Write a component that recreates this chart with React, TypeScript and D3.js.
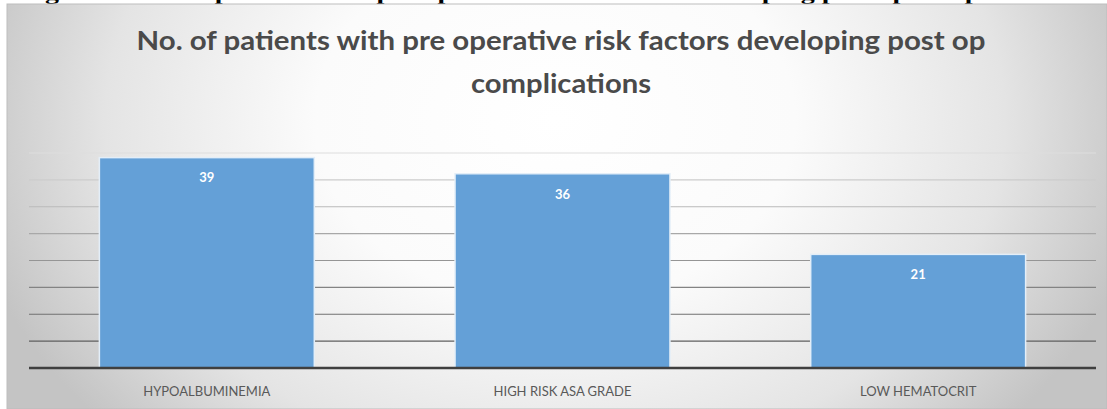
import * as d3 from "d3";
import React from "react";

const categories = ["HYPOALBUMINEMIA", "HIGH RISK ASA GRADE", "LOW HEMATOCRIT"];
const patients = [39, 36, 21];
const yDomain = [0, 40];
const titleLines = [
  "No. of patients with pre operative risk factors developing post op",
  "complications",
];
const titleWidths = [849, 180];
const caption =
  "Figure 3: No. of patients with pre operative risk factors developing post op complications";

const W = 1107;
const H = 409;

const App: React.FC = () => {
  const left = 29,
    right = 1096,
    bottom = 368,
    top = 153;

  const x = d3
    .scaleBand<string>()
    .domain(categories)
    .range([left, right])
    .paddingInner(0.4)
    .paddingOuter(0.2);

  const y = d3.scaleLinear().domain(yDomain).range([bottom, top]);

  // gridlines fade from light at the top to dark near the axis
  const gridColor = d3
    .scaleLinear<string>()
    .domain([yDomain[1], 5])
    .range(["#dedede", "#5f5f5f"])
    .interpolate(d3.interpolateRgb);

  const ticks = y.ticks(8).filter((t) => t > 0);

  return (
    <svg
      width={W}
      height={H}
      style={{ position: "fixed", left: 0, top: 0, display: "block", background: "#fff" }}
    >
      <defs>
        <radialGradient
          id="bg"
          gradientUnits="userSpaceOnUse"
          cx={0}
          cy={0}
          r={1}
          gradientTransform="translate(555,120) scale(600,460)"
        >
          <stop offset="0%" stopColor="#ffffff" />
          <stop offset="40%" stopColor="#fbfbfb" />
          <stop offset="75%" stopColor="#e4e4e4" />
          <stop offset="100%" stopColor="#c4c4c4" />
        </radialGradient>
      </defs>

      {/* cut-off caption of the document above the chart */}
      <text
        x={20}
        y={-0.5}
        textLength={1060}
        lengthAdjust="spacingAndGlyphs"
        style={{ font: "bold 18px 'Liberation Serif', serif" }}
        fill="#000"
      >
        {caption}
      </text>

      <rect x={7} y={4} width={W - 7} height={H - 4} fill="url(#bg)" stroke="#bdbdbd" />

      {titleLines.map((line, i) => (
        <text
          key={i}
          x={561}
          y={50 + i * 43}
          textAnchor="middle"
          textLength={titleWidths[i]}
          lengthAdjust="spacingAndGlyphs"
          style={{ font: "bold 27px Lato, 'Open Sans', sans-serif" }}
          fill="#4a4a4a"
        >
          {line}
        </text>
      ))}

      {ticks.map((t) => (
        <line
          key={t}
          x1={left}
          x2={right}
          y1={y(t)}
          y2={y(t)}
          stroke={gridColor(t)}
          strokeWidth={1.2}
        />
      ))}

      {categories.map((c, i) => (
        <g key={c}>
          <rect
            x={x(c)! - 1.5}
            y={y(patients[i]) - 1.5}
            width={x.bandwidth() + 3}
            height={bottom - y(patients[i]) + 1.5}
            fill="#e3eef8"
          />
          <rect
            x={x(c)}
            y={y(patients[i])}
            width={x.bandwidth()}
            height={bottom - y(patients[i])}
            fill="#64a0d7"
          />
          <text
            x={x(c)! + x.bandwidth() / 2}
            y={y(patients[i]) + 24}
            textAnchor="middle"
            style={{ font: "bold 13px Lato, sans-serif" }}
            fill="#fff"
          >
            {patients[i]}
          </text>
          <text
            x={x(c)! + x.bandwidth() / 2}
            y={396}
            textAnchor="middle"
            style={{ font: "13px Lato, sans-serif" }}
            fill="#595959"
          >
            {c}
          </text>
        </g>
      ))}

      <line x1={left} x2={right} y1={bottom} y2={bottom} stroke="#3f3f3f" strokeWidth={2.5} />
    </svg>
  );
};

export default App;
